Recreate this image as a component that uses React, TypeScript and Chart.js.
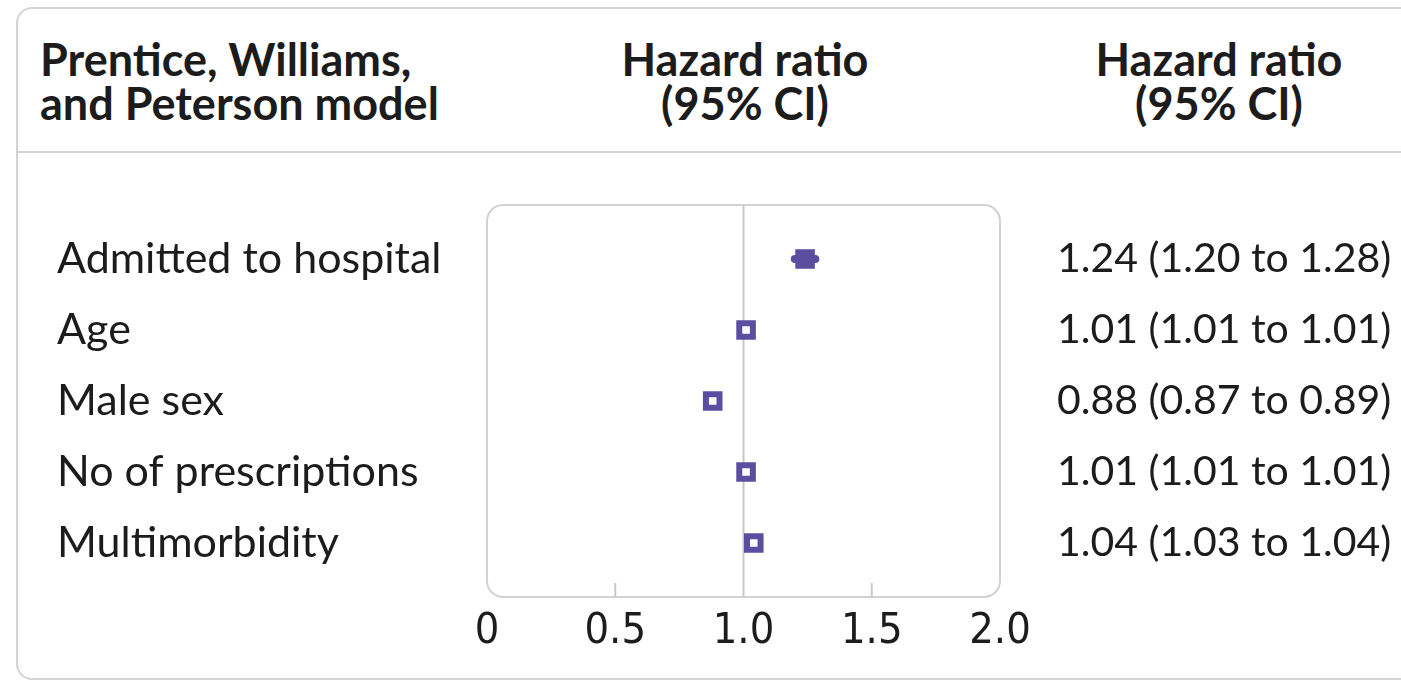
import React, { useEffect, useRef } from "react";
import { Chart, registerables } from "chart.js";

Chart.register(...registerables);

const categories = [
  "Admitted to hospital",
  "Age",
  "Male sex",
  "No of prescriptions",
  "Multimorbidity",
];
const hazardRatios = [1.24, 1.01, 0.88, 1.01, 1.04];
const lowerCI = [1.2, 1.01, 0.87, 1.01, 1.03];
const upperCI = [1.28, 1.01, 0.89, 1.01, 1.04];
const ciLabels = [
  "1.24 (1.20 to 1.28)",
  "1.01 (1.01 to 1.01)",
  "0.88 (0.87 to 0.89)",
  "1.01 (1.01 to 1.01)",
  "1.04 (1.03 to 1.04)",
];
const xTickValues = [0, 0.5, 1.0, 1.5, 2.0];
const xTickLabels = ["0", "0.5", "1.0", "1.5", "2.0"];
const minorTickValues = [0.5, 1.5];
const referenceValue = 1;
const headerLeft = ["Prentice, Williams,", "and Peterson model"];
const headerMid = ["Hazard ratio", "(95% CI)"];
const headerRight = ["Hazard ratio", "(95% CI)"];

const PURPLE = "#5b4ea1";
const TEXT = "#1c1c1c";
const LABEL_FONT = "'Lato', sans-serif";
const TICK_FONT = "'DejaVu Sans Condensed', 'DejaVu Sans', sans-serif";

const framePlugin = {
  id: "forestFrame",
  beforeDatasetsDraw(chart: any) {
    const { ctx, chartArea: a, scales } = chart;
    const x = scales.x;
    ctx.save();
    ctx.lineWidth = 2;
    ctx.strokeStyle = "#d2d2d2";
    ctx.beginPath();
    ctx.roundRect(a.left, a.top, a.right - a.left, a.bottom - a.top, 16);
    ctx.stroke();
    ctx.strokeStyle = "#c8c8c8";
    const rx = x.getPixelForValue(referenceValue);
    ctx.beginPath();
    ctx.moveTo(rx, a.top);
    ctx.lineTo(rx, a.bottom);
    ctx.stroke();
    minorTickValues.forEach((v) => {
      const px = x.getPixelForValue(v);
      ctx.beginPath();
      ctx.moveTo(px, a.bottom - 14);
      ctx.lineTo(px, a.bottom);
      ctx.stroke();
    });
    ctx.restore();
  },
};

export default function App() {
  const canvasRef = useRef<HTMLCanvasElement | null>(null);

  useEffect(() => {
    if (!canvasRef.current) return;
    const ciDatasets = categories.map((c, i) => ({
      type: "line" as const,
      label: c + " CI",
      data: [
        { x: lowerCI[i], y: i },
        { x: upperCI[i], y: i },
      ],
      borderColor: PURPLE,
      borderWidth: 8,
      borderCapStyle: "round" as const,
      pointRadius: 0,
      showLine: true,
      order: 2,
    }));
    const chart = new Chart(canvasRef.current, {
      type: "scatter",
      data: {
        datasets: [
          ...ciDatasets,
          {
            label: "Hazard ratio",
            data: hazardRatios.map((v, i) => ({ x: v, y: i })),
            pointStyle: "rect",
            pointRadius: 9.6,
            pointHoverRadius: 9.6,
            borderWidth: 6,
            borderColor: PURPLE,
            backgroundColor: (ctx: any) => {
              const i = ctx.dataIndex;
              const xs = ctx.chart.scales.x;
              if (i === undefined || !xs) return "#ffffff";
              const w = xs.getPixelForValue(upperCI[i]) - xs.getPixelForValue(lowerCI[i]);
              return w > 12 ? PURPLE : "#ffffff";
            },
            order: 1,
          } as any,
        ],
      },
      options: {
        animation: false,
        responsive: false,
        events: [],
        layout: { padding: { left: 57, top: 205, right: 0, bottom: 25 } },
        plugins: {
          legend: { display: false },
          tooltip: { enabled: false },
        },
        scales: {
          x: {
            type: "linear",
            min: 0,
            max: 2,
            afterBuildTicks: (axis: any) => {
              axis.ticks = xTickValues.map((v) => ({ value: v }));
            },
            afterFit: (axis: any) => {
              axis.height = 60;
            },
            ticks: {
              callback: (_v: any, i: number) => xTickLabels[i],
              font: { family: TICK_FONT, size: 43 },
              color: TEXT,
              padding: 9,
              maxRotation: 0,
              autoSkip: false,
            },
            grid: { display: false, drawTicks: false },
            border: { display: false },
          },
          y: {
            type: "linear",
            position: "left",
            reverse: true,
            min: -0.76,
            max: 4.76,
            afterBuildTicks: (axis: any) => {
              axis.ticks = categories.map((_c, i) => ({ value: i }));
            },
            afterFit: (axis: any) => {
              axis.width = 430;
            },
            ticks: {
              callback: (_v: any, i: number) => categories[i],
              crossAlign: "far",
              font: { family: LABEL_FONT, size: 43 },
              color: TEXT,
              autoSkip: false,
            },
            grid: { display: false, drawTicks: false },
            border: { display: false },
          },
          y2: {
            type: "linear",
            position: "right",
            reverse: true,
            min: -0.76,
            max: 4.76,
            afterBuildTicks: (axis: any) => {
              axis.ticks = ciLabels.map((_c, i) => ({ value: i }));
            },
            afterFit: (axis: any) => {
              axis.width = 401;
            },
            ticks: {
              callback: (_v: any, i: number) => ciLabels[i],
              crossAlign: "near",
              padding: 57,
              font: { family: LABEL_FONT, size: 41 },
              color: TEXT,
              autoSkip: false,
            },
            grid: { display: false, drawTicks: false },
            border: { display: false },
          },
        },
      } as any,
      plugins: [framePlugin],
    });
    return () => chart.destroy();
  }, []);

  const headerStyle: React.CSSProperties = {
    position: "absolute",
    top: 37,
    fontFamily: "'Lato', sans-serif",
    fontWeight: 700,
    fontSize: 45,
    lineHeight: "44px",
    color: TEXT,
    whiteSpace: "nowrap",
  };

  return (
    <div
      style={{
        position: "absolute",
        left: 0,
        top: 0,
        width: 1401,
        height: 682,
        overflow: "hidden",
        background: "#ffffff",
      }}
    >
      <div
        style={{
          position: "absolute",
          left: 16,
          top: 7,
          width: 1420,
          height: 673,
          boxSizing: "border-box",
          border: "2px solid #d4d4d4",
          borderRadius: 16,
        }}
      />
      <div
        style={{
          position: "absolute",
          left: 17,
          top: 151,
          width: 1400,
          height: 2,
          background: "#d4d4d4",
        }}
      />
      <div style={{ ...headerStyle, left: 40 }}>
        {headerLeft.map((t) => (
          <div key={t}>{t}</div>
        ))}
      </div>
      <div style={{ ...headerStyle, left: 545, width: 400, textAlign: "center" }}>
        {headerMid.map((t) => (
          <div key={t}>{t}</div>
        ))}
      </div>
      <div style={{ ...headerStyle, left: 1019, width: 400, textAlign: "center" }}>
        {headerRight.map((t) => (
          <div key={t}>{t}</div>
        ))}
      </div>
      <canvas
        ref={canvasRef}
        width={1401}
        height={682}
        style={{ position: "absolute", left: 0, top: 0, width: 1401, height: 682 }}
      />
    </div>
  );
}
